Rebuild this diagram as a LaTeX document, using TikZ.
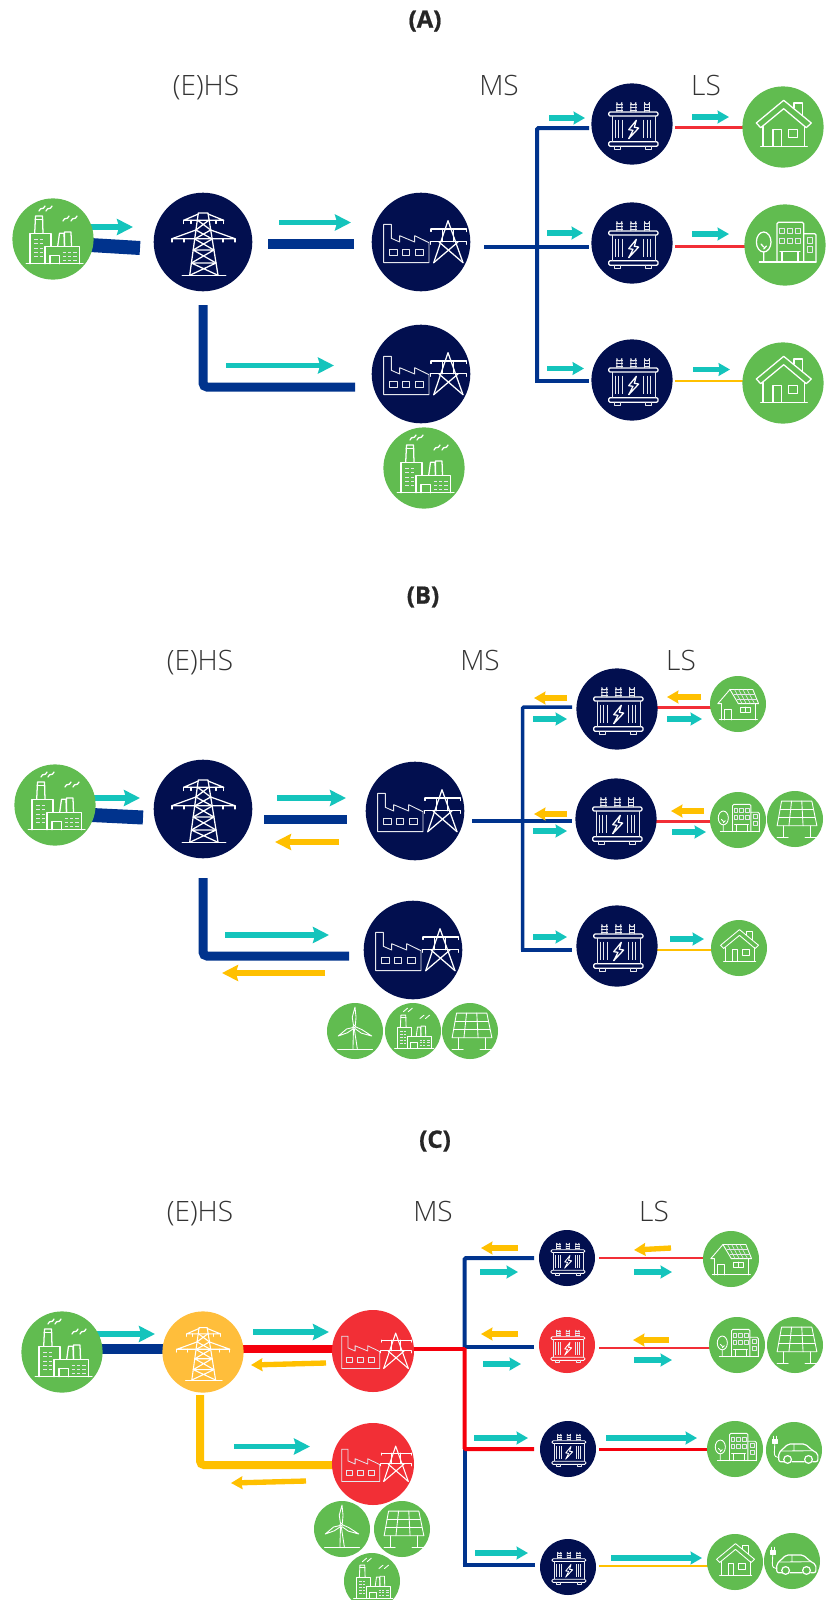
\documentclass[tikz,border=0pt]{standalone}
\usepackage{fontspec}
\usetikzlibrary{arrows.meta,backgrounds}
\newfontfamily\lblfont{Open Sans}[UprightFont=* Light]
\newfontfamily\ttlfont{Open Sans}[UprightFont=* Bold,FakeBold=0.8]
\definecolor{navy}{HTML}{020F4F}
\definecolor{leaf}{HTML}{61BC50}
\definecolor{wireblue}{HTML}{00338D}
\definecolor{flowcyan}{HTML}{14C4BC}
\definecolor{sun}{HTML}{FFC000}
\definecolor{hotred}{HTML}{F22F36}
\definecolor{pure}{HTML}{F5000C}
\definecolor{soft}{HTML}{FFBE3B}
\def\ils{1}
\tikzset{
 x=0.75pt,y=-0.75pt,
 icon/.style={draw=white,line width=\ils*0.95pt,line join=round,line cap=round},
 iconthin/.style={draw=white!90!navy,line width=\ils*0.7pt,line join=round},
 bubble/.style={circle,inner sep=0pt,minimum size=#1*1.5pt},
 lvl/.style={font=\lblfont\fontsize{21}{24}\selectfont,text=black!80,anchor=base},
 ttl/.style={font=\ttlfont\fontsize{18}{20}\selectfont,text=black!85},
 flow/.style={line width=4pt,-{Stealth[length=8.5pt,width=9.5pt,inset=0.8pt]}},
 flowb/.style={line width=3.8pt,-{Stealth[length=12pt,width=12pt,inset=1.6pt]}},
 wire/.style={line width=#1*0.75pt},
 pics/iconfactory/.style={code={
  \draw[icon] (-26.7,24.7)--(30,24.7);
  \draw[icon] (-23,24.7)--(-23,-5.7)--(-2,-5.7)--(-2,7.3);
  \draw[icon] (-18.3,-5.7)--(-17.5,-23)--(-10.5,-23)--(-10,-5.7);
  \draw[icon] (-17.7,-19.5)--(-10.3,-19.5);
  \draw[icon] (-8,24.7)--(-8,7.3)--(26.7,7.3)--(26.7,24.7);
  \draw[icon] (-3,24.7)--(-3,16.7)--(6.7,16.7)--(6.7,24.7);
  \draw[icon] (4.7,7.3)--(6.5,-5.7)--(11,-5.7)--(11.5,7.3);
  \draw[icon] (11.5,7.3)--(11.5,-7)--(18,-7)--(18.5,7.3);
  \foreach \yy in {0.3,4.7,9,13.3,17.3}{\draw[iconthin] (-19,\yy)--(-15,\yy) (-13.5,\yy)--(-10,\yy);}
  \foreach \yy in {13,17,21}{\draw[iconthin] (9.5,\yy)--(13,\yy) (15,\yy)--(18,\yy) (20,\yy)--(24,\yy);}
  \draw[icon] (-14,-28) .. controls (-12,-33) and (-10,-28) .. (-8,-33);
  \draw[icon] (-7,-28) .. controls (-5,-33) and (-3,-28) .. (-1,-33);
  \draw[icon] (10,-18) .. controls (12,-23) and (14,-18) .. (16,-23);
  \draw[icon] (18,-18) .. controls (20,-23) and (22,-18) .. (24,-23);
 }},
 pics/icontower/.style={code={
  \draw[icon] (-20.7,33.7)--(22.7,33.7);
  \draw[icon] (-13.3,33.3)--(-4.7,-29)--(5,-29)--(15,33.3);
  \draw[icon] (-19.3,-21.7)--(-4.7,-28) (20.7,-21.7)--(5,-28) (-19.3,-21.7)--(20.7,-21.7);
  \draw[icon] (-31,-3.3)--(-7.1,-12) (32,-3.3)--(7.7,-12) (-31,-3.3)--(32,-3.3);
  \draw[icon] (-5.7,-22)--(7.7,-12) (6.1,-22)--(-7.1,-12);
  \draw[icon] (-7.1,-12)--(9.2,-3) (7.7,-12)--(-8.3,-3);
  \draw[icon] (-8.3,-3)--(10.9,8) (9.2,-3)--(-9.8,8);
  \draw[icon] (-9.8,8)--(10.9,8) (-9.8,8)--(13,21) (10.9,8)--(-11.6,21);
  \draw[icon] (-11.6,21)--(15,33.3) (13,21)--(-13.3,33.3) (-11.6,21)--(13,21);
  \draw[icon] (-19.3,-21.7)--(-19.3,-18.5) (20.7,-21.7)--(20.7,-18.5) (-12,-21.7)--(-12,-18.5) (13,-21.7)--(13,-18.5);
  \draw[icon] (-31,-3.3)--(-31,0) (32,-3.3)--(32,0) (-19,-3.3)--(-19,0) (20,-3.3)--(20,0);
 }},
 pics/iconstation/.style={code={
  \draw[iconthin] (-37.3,-17.7)--(-37.3,20.7)--(8,20.7)--(8,0.7)--(-6.3,-6.3)--(-6.3,0)--(-21.3,-6.3)--(-21.3,0)--(-29.7,-3.7)--(-29.7,-17.7)--cycle;
  \draw[iconthin] (-31.7,7.7) rectangle (-24,13) (-19,7.7) rectangle (-11.3,13) (-6,7.7) rectangle (2,13);
  \draw[icon] (12.7,20.7)--(27,-21.3)--(42,20.7);
  \draw[icon] (10,-13)--(45.3,-13) (9.3,-0.3)--(45.3,-0.3);
  \draw[icon] (10,-13)--(10,-10.5) (45.3,-13)--(45.3,-10.5) (9.3,-0.3)--(9.3,2.2) (45.3,-0.3)--(45.3,2.2);
  \draw[icon] (18,0)--(42,20.7) (37,0)--(12.7,20.7);
  \draw[icon] (21.7,-13)--(21.7,-0.3) (32.5,-13)--(32.5,-0.3);
 }},
 pics/icontrafo/.style={code={
  \draw[icon,rounded corners=1pt] (-23.3,-12) rectangle (26,-8);
  \draw[icon,rounded corners=1pt] (-23.3,17.7) rectangle (26,22.3);
  \draw[iconthin] (-20,-8)--(-20,17.7) (23.3,-8)--(23.3,17.7);
  \foreach \xx in {-12.7,1.3,15}{
   \draw[iconthin] (\xx-2.5,-12)--(\xx-2.5,-21.5) arc (180:0:2.5) --(\xx+2.5,-12);
   \draw[iconthin] (\xx-3.4,-20)--(\xx+3.4,-20) (\xx-3.4,-17)--(\xx+3.4,-17) (\xx-3.4,-14)--(\xx+3.4,-14);
  }
  \foreach \xx in {-16.7,-13.3,-10,11.7,15,18.3}{\draw[iconthin] (\xx,-4.3)--(\xx,14);}
  \draw[icon] (4.3,-3.7)--(-3.3,5.7)--(1,6.3)--(-3.3,14.7)--(6.7,4)--(2.3,3.3)--cycle;
  \foreach \xx in {-14.3,16.7}{\draw[iconthin] (\xx-3,22.3)--(\xx-3,25.5) -- (\xx+3,25.5) -- (\xx+3,22.3);}
 }},
 pics/iconhouse/.style={code={
  \draw[icon] (-26.7,-4)--(0.7,-26.7)--(28.3,-4)--(23.3,0.7)--(0.7,-18.3)--(-22.3,0.7)--cycle;
  \draw[icon] (-20,-0.5)--(-20,19.3) (21.7,-0.5)--(21.7,19.3) (-22.3,19.3)--(24.3,19.3);
  \draw[icon] (-10,19.3)--(-10,2.7)--(-1.7,2.7)--(-1.7,19.3);
  \draw[icon] (5.3,2.7) rectangle (14.7,10.7);
  \draw[icon] (11,-19)--(11,-24)--(19.3,-24)--(19.3,-11.7);
 }},
 pics/iconoffice/.style={code={
  \draw[icon] (-25.7,17)--(31,17);
  \draw[icon,rounded corners=1pt] (-8,17)--(-8,-22.7)--(18.7,-22.7)--(18.7,17);
  \draw[icon,rounded corners=1pt] (18.7,-11.3)--(31,-11.3)--(31,17);
  \foreach \xx in {-5.7,2.3,10.3}{\foreach \yy in {-17,-7}{\draw[iconthin] (\xx,\yy) rectangle ++(5.4,5.7);}}
  \draw[iconthin] (22,-7.7) rectangle (27.3,-2) (22,1.3) rectangle (27.3,7);
  \draw[icon] (-3,17)--(-3,6.3)--(13,6.3)--(13,17) (-5,6.3)--(15,6.3);
  \draw[icon] (-21.3,-3) ellipse (7.3 and 10);
  \draw[icon] (-21.3,7)--(-21.3,17) (-21.3,2)--(-24,-1) (-21.3,4)--(-18.5,1);
 }},
 pics/iconsolarhouse/.style={code={
  \draw[icon] (-29.3,-0.5)--(-11.7,-21)--(0.5,-0.5) (-29.3,-0.5)--(-24.4,-0.5);
  \draw[icon] (-11.7,-21)--(21.5,-21)--(29.8,-0.5)--(0.5,-0.5);
  \draw[iconthin] (-6,-14)--(24.3,-14) (-2,-7)--(27,-7);
  \foreach \xa/\xb in {-5/6,1/12,7/18,13/24}{\draw[iconthin] (\xa,-21)--(\xb,-0.5);}
  \draw[icon] (-24.4,-0.5)--(-24.4,23) (25.4,-0.5)--(25.4,23) (-27,23)--(28,23);
  \draw[icon] (-19,23)--(-19,8.3)--(-9.3,8.3)--(-9.3,23);
  \draw[icon] (3.4,4.4) rectangle (17.6,11.7) (10.5,4.4)--(10.5,11.7);
 }},
 pics/iconsolar/.style={code={
  \draw[icon] (-19.5,-25.9)--(24.4,-25.9)--(31.7,9.8)--(-25.9,9.8)--cycle;
  \draw[icon] (-21.5,-13.5)--(26.5,-13.5) (-24,-2.4)--(29,-2.4);
  \draw[icon] (-5,-25.9)--(-8.8,9.8) (9.8,-25.9)--(11.7,9.8);
  \draw[icon] (-17,9.8)--(-17,26.8) (22,9.8)--(22,26.8);
  \draw[icon] (-25.9,26.8)--(-9.8,26.8) (14.6,26.8)--(31.7,26.8);
 }},
 pics/iconwind/.style={code={
  \draw[icon] (-25.4,26.8)--(25.4,26.8);
  \draw[icon] (-3,26.8)--(-2.2,-3) (-1,-3)--(3.5,26.8);
  \draw[icon] (-1,-6.3) circle (2);
  \draw[icon] (-2.2,-8.3)--(-4,-20)--(0,-34.6)--(1.5,-20)--(0.5,-8.3);
  \draw[icon] (-3,-5)--(-12,-3)--(-24.4,7.3)--(-11,2.5)--(-2,-3.5);
  \draw[icon] (1,-6)--(10,-2)--(24.4,7.3)--(9,3)--(0,-3.5);
 }},
 pics/iconcar/.style={code={
  \draw[icon,rounded corners=1.5pt,line width=\ils*1.3pt] (-14,17)--(-22,17)--(-22,3.9)--(-8.3,-8.8)--(16,-8.8)--(27.3,1)--(34.6,4.9)--(34.6,17)--(27,17) (15,17)--(-3,17);
  \draw[icon] (0,-8.8)--(0,1) (-18,1.5)--(27,1);
  \draw[icon,line width=\ils*1.3pt,fill=leaf] (-9.3,13.7) circle (5.6) (21,13.7) circle (5.6);
  \draw[icon,fill=white] (-31.2,-15.6) rectangle (-24.4,-9.8);
  \draw[icon] (-29.5,-20)--(-29.5,-15.6) (-26,-20)--(-26,-15.6);
  \draw[icon] (-27.8,-9.8)--(-28.5,4) .. controls (-28.5,9) and (-26,11) .. (-22,11);
 }}
}
\newcommand\bub[7]{\node[bubble=#3,fill=#2] (#1) at (#4,#5) {};\begingroup\def\ils{#7}\pic[scale=#7] at (#4,#5) {#6};\endgroup}
\newcommand\conn[6]{\coordinate (#1a) at (#3,#4);\coordinate (#1b) at (#5,#6);\draw[#2] (#1a)--(#1b);}
\newcommand\conL[8]{\coordinate (#1a) at (#3,#4);\coordinate (#1c) at (#5,#6);\coordinate (#1b) at (#7,#8);\draw[#2] (#1a)--(#1c)--(#1b);}
\begin{document}
\begin{tikzpicture}
\useasboundingbox (0,0) rectangle (833,1600);
% ---------- panel A
\node[ttl] (ta) at (425,21) {(A)};
\node[lvl] (la1) at (206,95) {(E)HS};
\node[lvl] (la2) at (499,95) {MS};
\node[lvl] (la3) at (706,95) {LS};
\bub{Afac}{leaf}{40.6}{53}{239}{iconfactory}{1}
\bub{Atow}{navy}{49.3}{203}{242}{icontower}{1}
\bub{Ast}{navy}{49.3}{421}{242}{iconstation}{1}
\bub{Ast2}{navy}{49.3}{421}{374}{iconstation}{1}
\bub{Afac2}{leaf}{40.6}{424}{468}{iconfactory}{1}
\bub{Atr1}{navy}{40.6}{632}{124}{icontrafo}{1}
\bub{Atr2}{navy}{40.6}{632}{243}{icontrafo}{1}
\bub{Atr3}{navy}{40.6}{632}{380}{icontrafo}{1}
\bub{Aho1}{leaf}{40.6}{783}{127}{iconhouse}{1}
\bub{Aof}{leaf}{40.6}{785}{245}{iconoffice}{1}
\bub{Aho2}{leaf}{40.6}{783}{383}{iconhouse}{1}
% ---------- panel B
\node[ttl] (tb) at (423,597) {(B)};
\node[lvl] (lb1) at (200,670) {(E)HS};
\node[lvl] (lb2) at (480,670) {MS};
\node[lvl] (lb3) at (681,670) {LS};
\bub{Bfac}{leaf}{40.6}{55}{805}{iconfactory}{1}
\bub{Btow}{navy}{49.3}{203}{809}{icontower}{1}
\bub{Bst}{navy}{49.3}{415}{811}{iconstation}{1}
\bub{Bst2}{navy}{49.3}{413}{950}{iconstation}{1}
\bub{Bwi}{leaf}{28}{355}{1031}{iconwind}{0.69}
\bub{Bfa2}{leaf}{28}{413}{1031}{iconfactory}{0.69}
\bub{Bso2}{leaf}{28}{470}{1031}{iconsolar}{0.69}
\bub{Btr1}{navy}{40.6}{617}{709}{icontrafo}{1}
\bub{Btr2}{navy}{40.6}{616}{819}{icontrafo}{1}
\bub{Btr3}{navy}{40.6}{617}{946}{icontrafo}{1}
\bub{Bsh}{leaf}{28}{738}{704}{iconsolarhouse}{0.69}
\bub{Bof}{leaf}{28}{738}{820}{iconoffice}{0.69}
\bub{Bso}{leaf}{28}{795}{819}{iconsolar}{0.69}
\bub{Bho}{leaf}{28}{739}{948}{iconhouse}{0.69}
% ---------- panel C
\node[ttl] (tc) at (435,1141) {(C)};
\node[lvl] (lc1) at (200,1221) {(E)HS};
\node[lvl] (lc2) at (433,1221) {MS};
\node[lvl] (lc3) at (654,1221) {LS};
\bub{Cfac}{leaf}{40.6}{62}{1352}{iconfactory}{1}
\bub{Ctow}{soft}{40.6}{203}{1352}{icontower}{0.84}
\bub{Cst}{hotred}{41}{373}{1351}{iconstation}{0.84}
\bub{Cst2}{hotred}{41}{373}{1464}{iconstation}{0.84}
\bub{Cwi}{leaf}{28}{342}{1529}{iconwind}{0.69}
\bub{Cso2}{leaf}{28}{402}{1529}{iconsolar}{0.69}
\bub{Cfa2}{leaf}{28}{372}{1581}{iconfactory}{0.69}
\bub{Ctr1}{navy}{28}{567}{1258}{icontrafo}{0.69}
\bub{Ctr2}{hotred}{28}{567}{1345}{icontrafo}{0.69}
\bub{Ctr3}{navy}{28}{568}{1449}{icontrafo}{0.69}
\bub{Ctr4}{navy}{28}{568}{1567}{icontrafo}{0.69}
\bub{Csh}{leaf}{28}{731}{1259}{iconsolarhouse}{0.69}
\bub{Cof1}{leaf}{28}{737}{1345}{iconoffice}{0.69}
\bub{Cso}{leaf}{28}{795}{1345}{iconsolar}{0.69}
\bub{Cof2}{leaf}{28}{735}{1449}{iconoffice}{0.69}
\bub{Cca1}{leaf}{28}{794}{1450}{iconcar}{0.69}
\bub{Cho}{leaf}{28}{735}{1562}{iconhouse}{0.69}
\bub{Cca2}{leaf}{28}{792}{1561}{iconcar}{0.69}
% ---------- connectors, behind the discs
\begin{pgfonlayer}{background}
\fill[white] (0,0) rectangle (833,1600);
% A
\conn{a1}{wire=14,wireblue}{90}{245}{140}{248}
\conn{a2}{flowb,flowcyan}{85}{227}{133}{227}
\conn{a3}{wire=10,wireblue}{268}{244}{354}{244}
\conn{a4}{flowb,flowcyan}{279}{222.5}{351}{222.5}
\conL{a5}{wire=9,wireblue,rounded corners=3pt}{203}{305}{203}{387}{355}{387}
\conn{a6}{flowb,flowcyan}{226}{365.5}{334}{365.5}
\conn{a7}{wire=4,wireblue}{484}{247}{589}{247}
\conL{a8}{wire=4,wireblue,rounded corners=1pt}{589}{128}{537}{128}{537}{381}
\conn{a9}{wire=4,wireblue}{535}{381}{589}{381}
\conn{a10}{flow,flowcyan}{549}{118}{585}{118}
\conn{a11}{flow,flowcyan}{547}{233}{583}{233}
\conn{a12}{flow,flowcyan}{547}{368.5}{584}{368.5}
\conn{a13}{wire=3,hotred}{675}{127.5}{745}{127.5}
\conn{a14}{wire=3,hotred}{675}{246}{747}{246}
\conn{a15}{wire=2,sun}{675}{381}{745}{381}
\conn{a16}{flow,flowcyan}{692}{117}{729}{117}
\conn{a17}{flow,flowcyan}{692}{234}{729}{234}
\conn{a18}{flow,flowcyan}{693}{369.5}{730}{369.5}
% B
\conn{b1}{wire=14,wireblue}{92}{815}{143}{817.5}
\conn{b2}{flowb,flowcyan}{88}{798}{140}{798}
\conn{b3}{wire=9,wireblue}{264}{819}{347}{819}
\conn{b4}{flowb,flowcyan}{277}{798}{346}{798}
\conn{b5}{flowb,sun}{339}{842}{275}{842}
\conL{b6}{wire=9,wireblue,rounded corners=3pt}{203}{878}{203}{956}{349}{956}
\conn{b7}{flowb,flowcyan}{225}{935}{329}{935}
\conn{b8}{flowb,sun}{325}{973}{222}{973}
\conn{b9}{wire=4,wireblue}{472}{821}{572}{821}
\conL{b10}{wire=3.5,wireblue,rounded corners=1pt}{572}{707}{522.5}{707}{522.5}{950}
\conn{b11}{wire=3.5,wireblue}{521}{950}{572}{950}
\conn{b12}{flow,sun}{567}{698}{534}{698}
\conn{b13}{flow,flowcyan}{533}{719}{567}{719}
\conn{b14}{flow,sun}{567}{814}{534}{814}
\conn{b15}{flow,flowcyan}{533}{831}{567}{831}
\conn{b16}{flow,flowcyan}{533}{937}{567}{937}
\conn{b17}{flow,sun}{701}{697}{667}{697}
\conn{b18}{flow,flowcyan}{667}{719}{702}{719}
\conn{b19}{flow,sun}{704}{811}{671}{811}
\conn{b20}{flow,flowcyan}{672}{832}{706}{832}
\conn{b21}{flow,flowcyan}{670}{939}{704}{939}
\conn{b22}{wire=3,hotred}{653}{707}{715}{707}
\conn{b23}{wire=3,hotred}{650}{821}{715}{821}
\conn{b24}{wire=2,sun}{655}{950}{715}{950}
% C
\conn{c1}{wire=10,wireblue}{95}{1349}{165}{1349}
\conn{c2}{flowb,flowcyan}{95}{1334}{155}{1334}
\conn{c3}{wire=8,pure}{240}{1349}{333}{1349}
\conn{c4}{flowb,flowcyan}{253}{1332}{329}{1332}
\conn{c5}{flow,sun}{326}{1363}{251}{1365}
\conL{c6}{wire=8,sun,rounded corners=3pt}{200}{1395}{200}{1465}{336}{1465}
\conn{c7}{flowb,flowcyan}{234}{1446.5}{310}{1446.5}
\conn{c8}{flow,sun}{306}{1481}{231}{1483}
\conL{c9}{wire=4,wireblue,rounded corners=1pt}{534}{1258}{464.5}{1258}{464.5}{1347}
\conn{c9b}{wire=4,wireblue}{464.5}{1449}{464.5}{1565}
\conn{c10}{wire=4,wireblue}{462.5}{1565}{535}{1565}
\conn{c11}{wire=3.5,wireblue}{464.5}{1347}{534}{1347}
\conn{c12}{wire=4,pure}{412}{1349}{464.5}{1349}
\conL{c13}{wire=4,pure,rounded corners=1pt}{464.5}{1348}{464.5}{1449}{534}{1449}
\conn{c14}{flow,sun}{518}{1248}{481}{1248}
\conn{c15}{flow,flowcyan}{480}{1272}{518}{1272}
\conn{c16}{flow,sun}{518}{1334}{481}{1334}
\conn{c17}{flow,flowcyan}{483}{1364}{521}{1364}
\conn{c18}{flow,flowcyan}{474}{1438}{528}{1438}
\conn{c19}{flow,flowcyan}{475}{1553}{528}{1553}
\conn{c20}{wire=2.5,hotred}{599}{1258}{705}{1258}
\conn{c21}{wire=2.5,hotred}{599}{1348}{712}{1348}
\conn{c22}{wire=3,pure}{599}{1449}{710}{1449}
\conn{c23}{wire=2,sun}{599}{1566}{710}{1566}
\conn{c24}{flow,sun}{671}{1248}{634}{1250}
\conn{c25}{flow,flowcyan}{634}{1272}{672}{1272}
\conn{c26}{flow,sun}{669}{1340}{633}{1340}
\conn{c27}{flow,flowcyan}{634}{1360}{672}{1360}
\conn{c28}{flow,flowcyan}{606}{1438}{697}{1438}
\conn{c29}{flow,flowcyan}{611}{1558}{702}{1558}
\end{pgfonlayer}
\end{tikzpicture}
\end{document}
